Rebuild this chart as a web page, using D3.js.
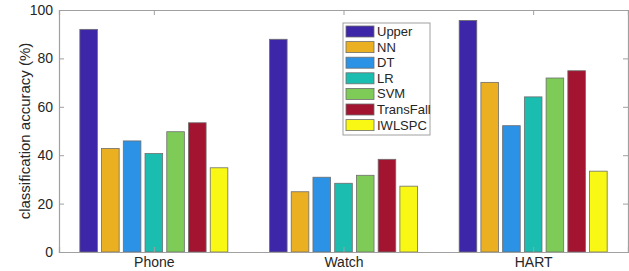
<!DOCTYPE html>
<html>
<head>
<meta charset="utf-8">
<script src="https://cdn.jsdelivr.net/npm/d3@7"></script>
<style>
  body { margin: 0; background: #fff; }
  text { font-family: "Liberation Sans", Arial, sans-serif; }
</style>
</head>
<body>
<div id="chart"></div>
<script>
var categories = ["Phone", "Watch", "HART"];
var methods = ["Upper", "NN", "DT", "LR", "SVM", "TransFall", "IWLSPC"];
var colors = ["#3e26a8", "#ebaf22", "#2b92e5", "#1bbdb0", "#7ecb58", "#a2142f", "#f8f814"];
// one array per category, in method order
var phoneVals = [92.0, 42.8, 45.9, 40.7, 49.7, 53.4, 34.8];
var watchVals = [87.9, 24.9, 30.9, 28.4, 31.7, 38.3, 27.2];
var hartVals = [95.7, 70.1, 52.2, 64.1, 71.9, 74.9, 33.4];
var yTicks = [0, 20, 40, 60, 80, 100];

var values = [phoneVals, watchVals, hartVals];

var width = 629, height = 271;
var margin = { top: 10, left: 59, bottom: 19, right: 1 };
var w = width - margin.left - margin.right;
var h = height - margin.top - margin.bottom;

var svg = d3.select("#chart").append("svg")
    .attr("width", width)
    .attr("height", height);

var g = svg.append("g")
    .attr("transform", "translate(" + margin.left + "," + margin.top + ")");

// category scale like matlab xlim [0.5, 3.5]
var xCat = d3.scaleLinear().domain([0.5, 3.5]).range([0, w]);
var y = d3.scaleLinear().domain([0, 100]).range([h, 0]);

var groupW = 148;  // total width of a group in px
var xInner = d3.scaleBand()
    .domain(methods)
    .range([-groupW / 2, groupW / 2])
    .paddingInner(0.19);

var groups = g.selectAll(".grp")
    .data(values)
    .enter().append("g")
    .attr("class", "grp")
    .attr("transform", function (d, i) { return "translate(" + xCat(i + 1) + ",0)"; });

groups.selectAll("rect")
    .data(function (d) { return d; })
    .enter().append("rect")
    .attr("x", function (d, i) { return xInner(methods[i]); })
    .attr("y", function (d) { return y(d); })
    .attr("width", xInner.bandwidth())
    .attr("height", function (d) { return h - y(d); })
    .attr("fill", function (d, i) { return colors[i]; })
    .attr("stroke", "#6e6e6e")
    .attr("stroke-width", 0.8);

// axes (matlab style, ticks inward, box on)
var axisColor = "#a0a0a0";
var tickLen = 5;

var yAxis = g.append("g")
    .call(d3.axisLeft(y).tickValues(yTicks).tickSize(-tickLen).tickPadding(6));
var yAxisR = g.append("g")
    .attr("transform", "translate(" + w + ",0)")
    .call(d3.axisRight(y).tickValues(yTicks).tickSize(-tickLen).tickFormat(""));
var xAxis = g.append("g")
    .attr("transform", "translate(0," + h + ")")
    .call(d3.axisBottom(xCat).tickValues([1, 2, 3]).tickSize(-tickLen).tickPadding(5)
        .tickFormat(function (d) { return categories[d - 1]; }));
var xAxisT = g.append("g")
    .call(d3.axisTop(xCat).tickValues([1, 2, 3]).tickSize(-tickLen).tickFormat(""));

[yAxis, yAxisR, xAxis, xAxisT].forEach(function (a) {
    a.select(".domain").attr("stroke", axisColor).attr("stroke-width", 1.2);
    a.selectAll(".tick line").attr("stroke", axisColor);
    a.selectAll(".tick text")
        .attr("fill", "#262626")
        .style("font-size", "14px")
        .style("font-family", "'Liberation Sans', Arial, sans-serif");
});

// y label
svg.append("text")
    .attr("transform", "translate(25," + (margin.top + h / 2) + ") rotate(-90)")
    .attr("text-anchor", "middle")
    .attr("dy", "0.35em")
    .attr("fill", "#262626")
    .style("font-size", "15px")
    .text("classification accuracy (%)");

// legend
var legend = svg.append("g").attr("transform", "translate(343,23)");
legend.append("rect")
    .attr("width", 87)
    .attr("height", 112)
    .attr("fill", "#fff")
    .attr("stroke", "#a0a0a0")
    .attr("stroke-width", 1);

var rowH = 15.6;
var items = legend.selectAll(".item")
    .data(methods)
    .enter().append("g")
    .attr("transform", function (d, i) { return "translate(3," + (3 + i * rowH) + ")"; });

items.append("rect")
    .attr("width", 28)
    .attr("height", 11)
    .attr("fill", function (d, i) { return colors[i]; })
    .attr("stroke", "#6e6e6e")
    .attr("stroke-width", 0.8);

items.append("text")
    .attr("x", 31)
    .attr("y", 5.5)
    .attr("dy", "0.35em")
    .attr("fill", "#262626")
    .style("font-size", "13px")
    .text(function (d) { return d; });
</script>
</body>
</html>
